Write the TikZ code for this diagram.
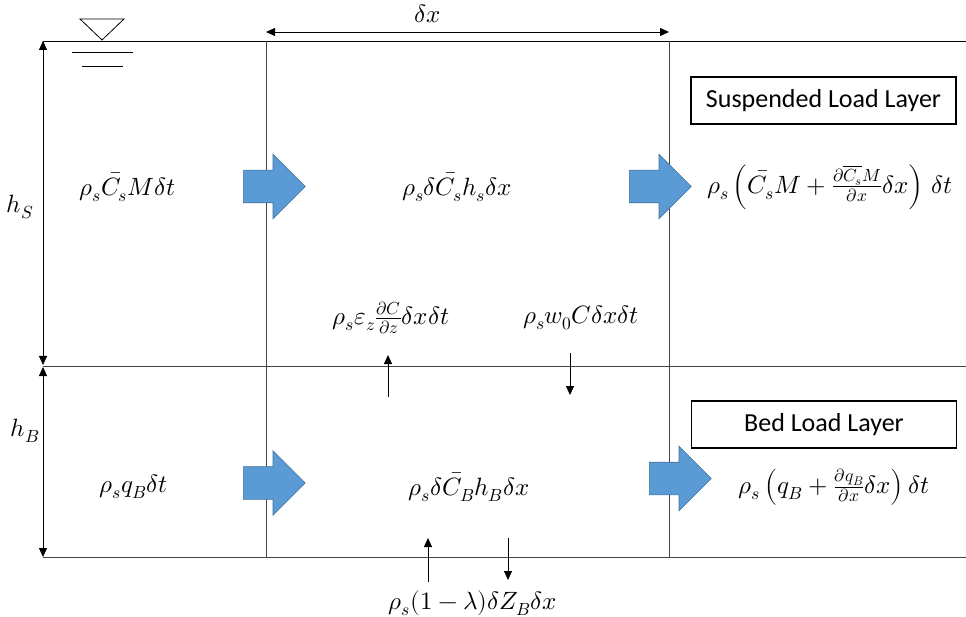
\documentclass[tikz,border=0pt]{standalone}
\usepackage{fontspec}
\usepackage{unicode-math}
\newfontfamily\calib{Carlito}
\usetikzlibrary{arrows.meta,shapes.arrows}
\definecolor{blk}{HTML}{5B9BD5}
\definecolor{blkedge}{HTML}{41719C}
\definecolor{ln}{HTML}{444444}
\tikzset{
  mth/.style={inner sep=0pt, font=\fontsize{25}{30}\selectfont},
  lbl/.style={draw, line width=1.2pt, minimum width=265pt, minimum height=47pt, inner sep=0pt, font=\calib\fontsize{26}{30}\selectfont},
  flow/.style={single arrow, fill=blk, draw=blkedge, line width=0.6pt, minimum height=62pt, minimum width=64pt, single arrow head extend=16pt, inner sep=16pt, single arrow head indent=0pt, anchor=tail},
  dim/.style={line width=0.8pt, {Triangle[length=9pt,width=8pt]}-{Triangle[length=9pt,width=8pt]}},
  sarr/.style={line width=0.8pt, -{Triangle[length=9pt,width=8pt]}},
  grid/.style={line width=0.9pt, ln}
}
\begin{document}
\begin{tikzpicture}[x=1pt,y=-1pt]
\useasboundingbox (0,0) rectangle (966,617);
% frame coordinates
\coordinate (tl) at (43,41);
\coordinate (tr) at (966,41);
\coordinate (ml) at (43,366);
\coordinate (mr) at (966,366);
\coordinate (bl) at (43,557);
\coordinate (br) at (966,557);
\coordinate (v1t) at (266,41);
\coordinate (v1b) at (266,557);
\coordinate (v2t) at (669,41);
\coordinate (v2b) at (669,557);
\draw[line width=0.9pt] (tl) -- (tr);
\draw[grid] (ml) -- (mr);
\draw[grid] (bl) -- (br);
\draw[grid] (v1t) -- (v1b);
\draw[grid] (v2t) -- (v2b);
% dimensions
\coordinate (hst) at (43,41);
\coordinate (hsb) at (43,365);
\coordinate (hbt) at (43,367);
\coordinate (hbb) at (43,557);
\draw[dim] (hst) -- (hsb);
\draw[dim] (hbt) -- (hbb);
\coordinate (dxl) at (266,32);
\coordinate (dxr) at (669,32);
\draw[dim] (dxl) -- (dxr);
\node[mth] (dx) at (428,14) {$\delta x$};
\node[mth] (hS) at (20,207) {$h_S$};
\node[mth] (hB) at (25,431) {$h_B$};
% water level symbol
\coordinate (w1) at (80,19);
\coordinate (w2) at (124,19);
\coordinate (w3) at (102,40);
\draw[line width=0.8pt] (w1) -- (w2) -- (w3) -- cycle;
\coordinate (w4) at (72,52);
\coordinate (w5) at (133,52);
\coordinate (w6) at (82,66);
\coordinate (w7) at (123,66);
\draw[line width=0.7pt] (w4) -- (w5);
\draw[line width=0.7pt] (w6) -- (w7);
% label boxes
\node[lbl] (susp) at (823.5,100.5) {Suspended Load Layer};
\node[lbl] (bed) at (824,424.5) {Bed Load Layer};
% block arrows
\node[flow] (fa1) at (243,186.5) {};
\node[flow] (fa2) at (629,186.5) {};
\node[flow] (fa3) at (243,483) {};
\node[flow] (fa4) at (649,478.5) {};
% texts
\node[mth] (tf1) at (127.5,187) {$\rho_s\bar{C}_s M\delta t$};
\node[mth] (tf2) at (457,187) {$\rho_s\delta\bar{C}_s h_s\delta x$};
\node[mth] (tf3) at (830,187) {$\rho_s\left(\bar{C}_s M+\tfrac{\partial\overline{C_s}M}{\partial x}\delta x\right)\,\delta t$};
\node[mth] (tv1) at (391,318) {$\rho_s\varepsilon_z\tfrac{\partial C}{\partial z}\delta x\delta t$};
\node[mth] (tv2) at (581,318) {$\rho_s w_0 C\delta x\delta t$};
\node[mth] (bf1) at (133.5,487) {$\rho_s q_B\delta t$};
\node[mth] (bf2) at (469,487) {$\rho_s\delta\bar{C}_B h_B\delta x$};
\node[mth] (bf3) at (834,487) {$\rho_s\left(q_B+\tfrac{\partial q_B}{\partial x}\delta x\right)\delta t$};
\node[mth] (bz) at (473,603) {$\rho_s(1-\lambda)\delta Z_B\delta x$};
% small vertical arrows
\coordinate (a1s) at (388,397);
\coordinate (a1e) at (388,355);
\coordinate (a2s) at (570,353);
\coordinate (a2e) at (570,395);
\coordinate (a3s) at (428,582);
\coordinate (a3e) at (428,538);
\coordinate (a4s) at (508,538);
\coordinate (a4e) at (508,580);
\draw[sarr] (a1s) -- (a1e);
\draw[sarr] (a2s) -- (a2e);
\draw[sarr] (a3s) -- (a3e);
\draw[sarr] (a4s) -- (a4e);
\end{tikzpicture}
\end{document}
